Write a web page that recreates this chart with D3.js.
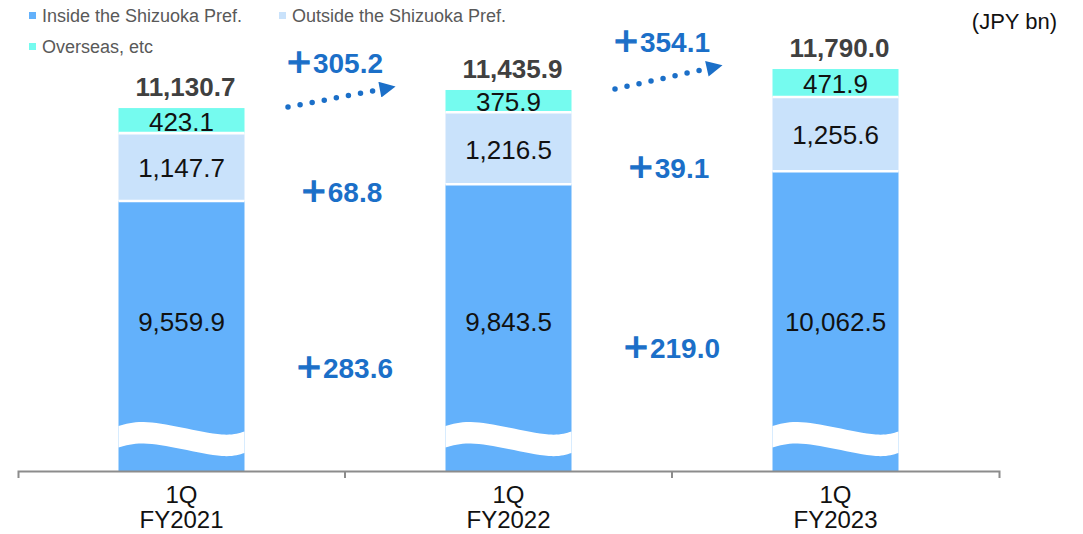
<!DOCTYPE html>
<html>
<head>
<meta charset="utf-8">
<script src="https://cdn.jsdelivr.net/npm/d3@7"></script>
<style>
  html, body { margin: 0; padding: 0; background: #fff; }
  svg { display: block; font-family: "Liberation Sans", Arial, "Noto Sans CJK JP", sans-serif; }
</style>
</head>
<body>
<svg id="chart" width="1083" height="534"></svg>
<script>
// Deposit balance by region, 1Q of each fiscal year (JPY bn)
const quarters = ["1Q", "1Q", "1Q"];
const fiscalYears = ["FY2021", "FY2022", "FY2023"];
const inside = [9559.9, 9843.5, 10062.5];
const outside = [1147.7, 1216.5, 1255.6];
const overseas = [423.1, 375.9, 471.9];
const totals = [11130.7, 11435.9, 11790.0];

// Year-on-year changes shown between the bars
const totalChange = [305.2, 354.1];
const outsideChange = [68.8, 39.1];
const insideChange = [283.6, 219.0];

const seriesNames = ["Inside the Shizuoka Pref.", "Outside the Shizuoka Pref.", "Overseas, etc"];
const seriesColors = ["#63b1fb", "#c9e2fb", "#75fbef"];

const svg = d3.select("#chart");
const baseY = 471;

const x = d3.scaleBand().domain(fiscalYears).range([18, 999]).padding(0);
const barW = 126;
// Axis is broken: values start at 5,000
const axisStart = 5000;
const y = d3.scaleLinear().domain([axisStart, 12000]).range([baseY, 56.6]);

const rows = fiscalYears.map((fy, i) => ({
  fy, q: quarters[i],
  segs: [
    { key: 0, lo: axisStart, hi: inside[i], v: inside[i] },
    { key: 1, lo: inside[i], hi: inside[i] + outside[i], v: outside[i] },
    { key: 2, lo: inside[i] + outside[i], hi: inside[i] + outside[i] + overseas[i], v: overseas[i] }
  ],
  total: totals[i]
}));

const fmt = d3.format(",.1f");
const bars = svg.append("g").selectAll("g").data(rows).join("g")
  .attr("transform", d => `translate(${x(d.fy) + (x.bandwidth() - barW) / 2},0)`);

bars.selectAll("rect").data(d => d.segs).join("rect")
  .attr("x", 0).attr("width", barW)
  .attr("y", s => y(s.hi))
  .attr("height", s => y(s.lo) - y(s.hi))
  .attr("fill", s => seriesColors[s.key]);

// white separators between stacked segments
bars.selectAll("line.sep").data(d => d.segs.slice(1)).join("line")
  .attr("class", "sep")
  .attr("x1", 0).attr("x2", barW)
  .attr("y1", s => y(s.lo)).attr("y2", s => y(s.lo))
  .attr("stroke", "#fff").attr("stroke-width", 2.6);

// wavy break band near the bottom of each bar
const waveTop = [[0, -45], [0.2, -49], [0.5, -43.5], [0.82, -36.5], [1, -39.5]];
const waveThick = 21.5;
const waveLine = d3.line().curve(d3.curveNatural);
function wavePath() {
  const top = waveTop.map(([t, dy]) => [t * barW, baseY + dy]);
  const bot = waveTop.slice().reverse().map(([t, dy]) => [t * barW, baseY + dy + waveThick]);
  return waveLine(top) + "L" + waveLine(bot).slice(1) + "Z";
}
bars.append("path").attr("d", wavePath()).attr("fill", "#fff");

// segment values
bars.append("text")
  .attr("x", barW / 2).attr("y", 322).attr("dy", "0.36em")
  .attr("text-anchor", "middle").attr("font-size", 26).attr("fill", "#111")
  .text(d => fmt(d.segs[0].v));
bars.selectAll("text.seg").data(d => d.segs.slice(1)).join("text")
  .attr("class", "seg")
  .attr("x", barW / 2).attr("y", s => (y(s.lo) + y(s.hi)) / 2 + 1).attr("dy", "0.36em")
  .attr("text-anchor", "middle").attr("font-size", 26).attr("fill", "#111")
  .text(s => fmt(s.v));

// totals
bars.append("text")
  .attr("x", barW / 2 + 4).attr("y", d => y(d.total) - 12)
  .attr("text-anchor", "middle").attr("font-size", 26).attr("font-weight", "bold")
  .attr("fill", "#404040")
  .text(d => fmt(d.total));

// axis
const axis = svg.append("g").attr("transform", `translate(0,${baseY})`)
  .call(d3.axisBottom(x).tickSize(0).tickSizeOuter(7).tickFormat(""));
axis.select(".domain").attr("stroke", "#8c8c8c").attr("stroke-width", 2);
axis.selectAll(".tick").remove();
const bounds = fiscalYears.slice(1).map(fy => x(fy));
axis.selectAll("line.inner").data(bounds).join("line")
  .attr("class", "inner")
  .attr("x1", d => d).attr("x2", d => d).attr("y1", 0).attr("y2", 7)
  .attr("stroke", "#8c8c8c").attr("stroke-width", 2);

const cat = svg.append("g").selectAll("text").data(rows).join("text")
  .attr("text-anchor", "middle").attr("font-size", 24).attr("fill", "#111");
cat.append("tspan").attr("x", d => x(d.fy) + x.bandwidth() / 2).attr("y", 503).text(d => d.q);
cat.append("tspan").attr("x", d => x(d.fy) + x.bandwidth() / 2).attr("y", 528).text(d => d.fy);

// change annotations: full-width plus sign followed by the amount
const blue = "#1b6fc8";
const ann = svg.append("g").attr("font-size", 28).attr("font-weight", "bold")
  .attr("fill", blue).attr("text-anchor", "middle");
function changeLabel(sel) {
  sel.append("tspan").attr("stroke", blue).attr("stroke-width", 1.3).text("＋");
  sel.append("tspan").text(v => d3.format(".1f")(v));
}
ann.selectAll("text.tc").data(totalChange).join("text").attr("class", "tc")
  .attr("x", (d, i) => bounds[i] - 11).attr("y", (d, i) => y(totals[i + 1]) - 17)
  .call(changeLabel);
const outsideY = [202, 178];
ann.selectAll("text.oc").data(outsideChange).join("text").attr("class", "oc")
  .attr("x", (d, i) => bounds[i] - 4).attr("y", (d, i) => outsideY[i])
  .call(changeLabel);
const insideY = [378, 358];
ann.selectAll("text.ic").data(insideChange).join("text").attr("class", "ic")
  .attr("x", (d, i) => bounds[i] - 1).attr("y", (d, i) => insideY[i])
  .call(changeLabel);

// dotted arrows between bar tops
svg.append("defs").append("marker")
  .attr("id", "arrowHead").attr("viewBox", "0 0 10 10")
  .attr("refX", 2).attr("refY", 5).attr("markerWidth", 18).attr("markerHeight", 16)
  .attr("markerUnits", "userSpaceOnUse").attr("orient", "auto")
  .append("path").attr("d", "M0,0L10,5L0,10Z").attr("fill", blue);
const arrows = totalChange.map((d, i) => ({
  x1: bounds[i] - 57, y1: y(totals[i]) - 1,
  x2: bounds[i] + 38, y2: y(totals[i + 1]) - 1
}));
svg.append("g").selectAll("line").data(arrows).join("line")
  .attr("x1", d => d.x1).attr("y1", d => d.y1)
  .attr("x2", d => d.x2).attr("y2", d => d.y2)
  .attr("stroke", blue).attr("stroke-width", 5.5)
  .attr("stroke-linecap", "round").attr("stroke-dasharray", "0 12.3")
  .attr("marker-end", "url(#arrowHead)");

// legend
const legendPos = [[29, 22], [279, 22], [29, 53]];
const lg = svg.append("g").selectAll("g").data(seriesNames).join("g")
  .attr("transform", (d, i) => `translate(${legendPos[i][0]},${legendPos[i][1]})`);
lg.append("rect").attr("x", 0).attr("y", -10).attr("width", 7).attr("height", 7)
  .attr("fill", (d, i) => seriesColors[i]);
lg.append("text").attr("x", 13).attr("y", 0).attr("font-size", 18).attr("fill", "#595959")
  .text(d => d);

svg.append("text").attr("x", 1057).attr("y", 29).attr("text-anchor", "end")
  .attr("font-size", 22).attr("fill", "#111").text("(JPY bn)");
</script>
</body>
</html>
